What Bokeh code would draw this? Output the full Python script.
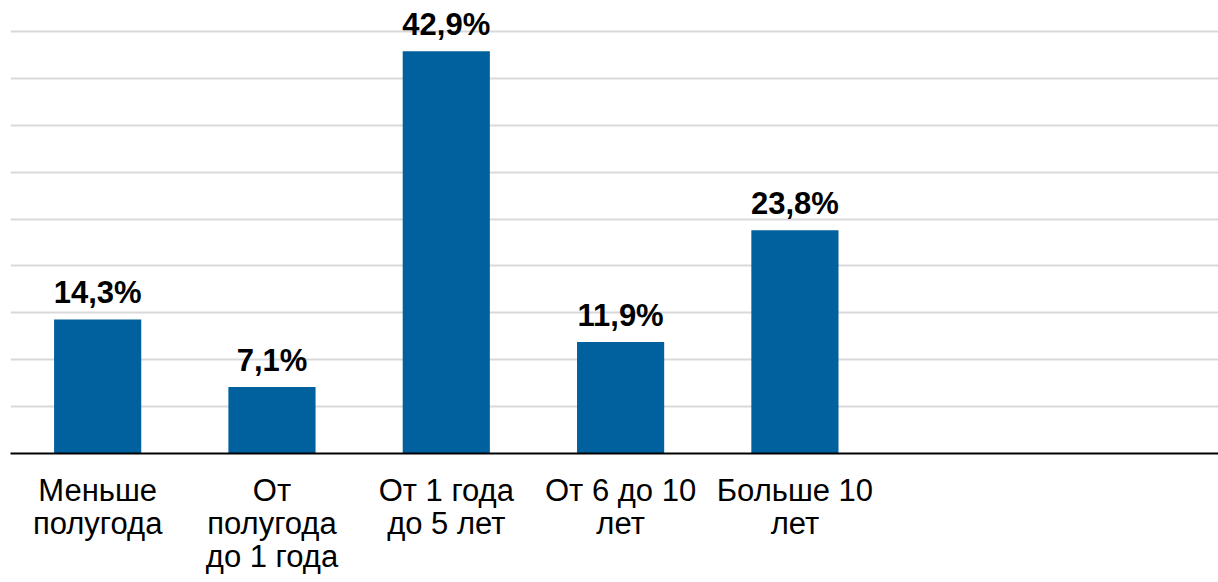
from bokeh.plotting import figure
from bokeh.models import ColumnDataSource, Range1d, FixedTicker, LabelSet
from bokeh.core.properties import value
from bokeh.embed import file_html
from bokeh.resources import INLINE

categories = ["Меньше\nполугода", "От\nполугода\nдо 1 года", "От 1 года\nдо 5 лет",
              "От 6 до 10\nлет", "Больше 10\nлет"]
values = [14.3, 7.1, 42.9, 11.9, 23.8]
x_end = 6.93    # visible part of 7 category slots
y_end = 48.3
grid_ticks = [0, 5, 10, 15, 20, 25, 30, 35, 40, 45]

xs = [i + 0.5 for i in range(len(categories))]
labels = [f"{v:.1f}".replace(".", ",") + "%" for v in values]
src = ColumnDataSource(dict(x=xs, top=values, label=labels))

p = figure(frame_width=1208, frame_height=453, output_backend="svg", toolbar_location=None,
           x_range=Range1d(0, x_end), y_range=Range1d(0, y_end),
           y_axis_location=None, min_border_left=10, min_border_right=0,
           min_border_top=0, min_border_bottom=0)
p.outline_line_color = None
p.background_fill_color = "white"
p.border_fill_color = "white"

p.vbar(x="x", top="top", width=0.5, bottom=0, source=src,
       fill_color="#01609E", line_color=None)

p.ygrid.ticker = FixedTicker(ticks=grid_ticks)
p.ygrid.grid_line_color = "#d9d9d9"
p.ygrid.grid_line_width = 2
p.xgrid.grid_line_color = None

ax = p.xaxis[0]
ax.ticker = FixedTicker(ticks=xs)
ax.major_label_overrides = {x: c for x, c in zip(xs, categories)}
ax.axis_line_color = "black"
ax.axis_line_width = 2
ax.major_tick_line_color = None
ax.minor_tick_line_color = None
ax.major_label_text_font = "Liberation Sans"
ax.major_label_text_font_size = "31px"
ax.major_label_text_color = "black"
ax.major_label_text_line_height = 0.95
ax.major_label_standoff = 13

lbl = LabelSet(x="x", y="top", text="label", source=src, y_offset=16,
               text_align="center", text_baseline="alphabetic",
               text_font=value("Liberation Sans"), text_font_style="bold",
               text_font_size="31px", text_color="black")
p.add_layout(lbl)

open("out.html", "w").write(file_html(p, INLINE))
